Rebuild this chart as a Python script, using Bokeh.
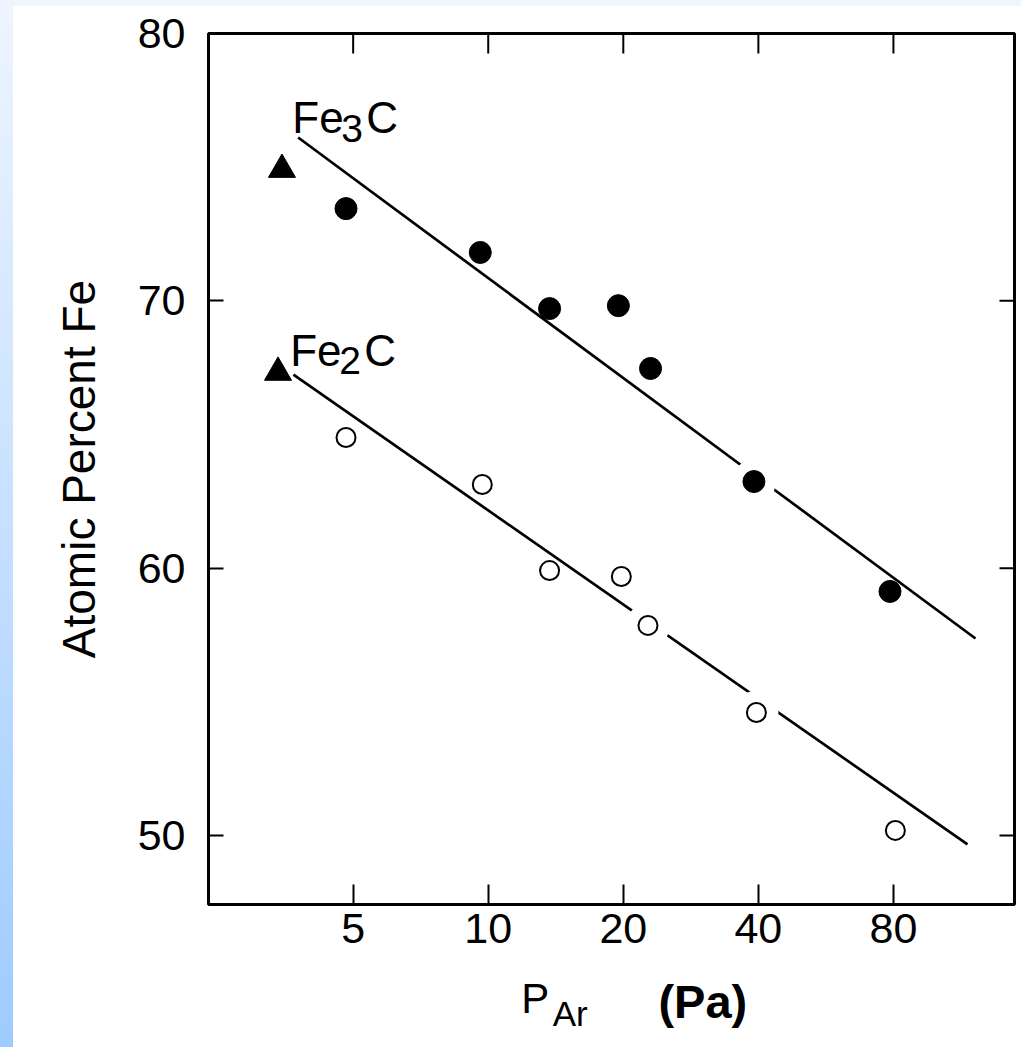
import math
from bokeh.plotting import figure
from bokeh.models import FixedTicker, Label, BasicTickFormatter, LogAxis, CustomJSTickFormatter
from bokeh.embed import file_html
from bokeh.resources import INLINE

# ---- data ----
fe3c_p = [4.82, 9.60, 13.7, 19.5, 23.0, 39.1, 78.6]
fe3c_fe = [73.45, 71.81, 69.71, 69.82, 67.47, 63.24, 59.13]
fe2c_p = [4.82, 9.70, 13.7, 19.8, 22.7, 39.6, 80.8]
fe2c_fe = [64.89, 63.13, 59.91, 59.69, 57.86, 54.60, 50.19]
tri_p = [3.47, 3.40]
tri_fe = [74.91, 67.32]
fe3c_fit_p = [3.77, 121.9]
fe3c_fit_fe = [76.11, 57.37]
fe2c_fit_p = [3.68, 117.0]
fe2c_fit_fe = [67.24, 49.67]
x_ticks = [5, 10, 20, 40, 80]
y_ticks = [50, 60, 70, 80]
x_lo, x_hi = 2.38, 148.9
y_lo, y_hi = 47.42, 80.0

# points where the drawn fit line is broken around the marker (style)
fe3c_gap = [5]
fe2c_gap = [4, 5]

FONT = "Liberation Sans"

p = figure(width=1021, height=1047, x_axis_type="log",
           x_range=(x_lo, x_hi), y_range=(y_lo, y_hi),
           output_backend="svg", toolbar_location=None,
           min_border_left=208, min_border_right=7,
           min_border_top=33, min_border_bottom=143)

p.styles = {"background": "linear-gradient(#EEF5FF, #9ECBFF) 0 0 / 13px 100% no-repeat, "
                          "linear-gradient(#F1F6FE, #F1F6FE) 0 0 / 100% 6px no-repeat, #FFFFFF"}
p.border_fill_color = None
p.background_fill_color = "white"
p.outline_line_color = "black"
p.outline_line_width = 3
p.xgrid.visible = False
p.ygrid.visible = False

xa = p.xaxis[0]
xa.ticker = FixedTicker(ticks=x_ticks)
xa.formatter = BasicTickFormatter()
xa.axis_line_color = None
xa.major_tick_in = 20
xa.major_tick_out = 0
xa.major_tick_line_width = 2
xa.minor_tick_line_color = None
xa.major_label_text_font = FONT
xa.major_label_text_font_size = "43px"
xa.major_label_text_color = "black"
xa.major_label_standoff = 9

ya = p.yaxis[0]
ya.ticker = FixedTicker(ticks=y_ticks)
ya.axis_line_color = None
ya.major_tick_in = 15
ya.major_tick_out = 0
ya.major_tick_line_width = 2
ya.minor_tick_line_color = None
ya.major_label_text_font = FONT
ya.major_label_text_font_size = "43px"
ya.major_label_text_color = "black"
ya.major_label_standoff = 23
ya.axis_label = "Atomic Percent Fe"
ya.axis_label_text_font = FONT
ya.axis_label_text_font_size = "46px"
ya.axis_label_text_font_style = "normal"
ya.axis_label_text_color = "black"
ya.axis_label_standoff = 30

# x axis title "P_Ar (Pa)": built from three label-only axes stacked below
def title_axis(pos, text, size, standoff, style="normal"):
    ax = LogAxis(ticker=FixedTicker(ticks=[pos]),
                 formatter=CustomJSTickFormatter(code="return %r" % text),
                 axis_line_color=None, major_tick_line_color=None,
                 minor_tick_line_color=None, major_tick_in=0, major_tick_out=0,
                 major_label_standoff=standoff, major_label_text_font=FONT,
                 major_label_text_font_size=size,
                 major_label_text_font_style=style,
                 major_label_text_color="black")
    p.add_layout(ax, "below")

title_axis(12.73, "P", "42px", 29)
title_axis(30.08, "(Pa)", "47px", -50, "bold")
title_axis(15.23, "Ar", "35px", -37)

# inward ticks on the top and right edges of the frame
p.ray(x=x_ticks, y=[y_hi] * len(x_ticks), length=20, length_units="screen",
      angle=-math.pi / 2, line_color="black", line_width=2)
p.ray(x=[x_hi] * len(y_ticks), y=y_ticks, length=15, length_units="screen",
      angle=math.pi, line_color="black", line_width=2)

# fit lines
p.line(fe3c_fit_p, fe3c_fit_fe, line_color="black", line_width=2.7)
p.line(fe2c_fit_p, fe2c_fit_fe, line_color="black", line_width=2.7)

# white breaks in the fit lines around some markers
p.scatter([fe3c_p[i] for i in fe3c_gap] + [fe2c_p[i] for i in fe2c_gap],
          [fe3c_fe[i] for i in fe3c_gap] + [fe2c_fe[i] for i in fe2c_gap],
          marker="circle", size=44, fill_color="white", line_color=None)

# points
p.scatter(fe3c_p, fe3c_fe, marker="circle", size=22, fill_color="black", line_color="black")
p.scatter(fe2c_p, fe2c_fe, marker="circle", size=19, fill_color="white",
          line_color="black", line_width=2)
p.scatter(tri_p, tri_fe, marker="triangle", size=27, fill_color="black", line_color="black")

def lab(x, y, text, size, xoff=0):
    p.add_layout(Label(x=x, y=y, text=text, x_offset=xoff, text_font=FONT,
                       text_font_size=size, text_color="black",
                       text_baseline="alphabetic"))

# compound labels
lab(3.66, 76.85, "Fe", "44px")
lab(3.66, 76.44, "3", "39px", 49)
lab(3.66, 76.85, "C", "44px", 74)
lab(3.62, 68.14, "Fe", "44px")
lab(3.62, 67.77, "2", "39px", 49)
lab(3.62, 68.14, "C", "44px", 74)

open("out.html", "w").write(file_html(p, INLINE))
